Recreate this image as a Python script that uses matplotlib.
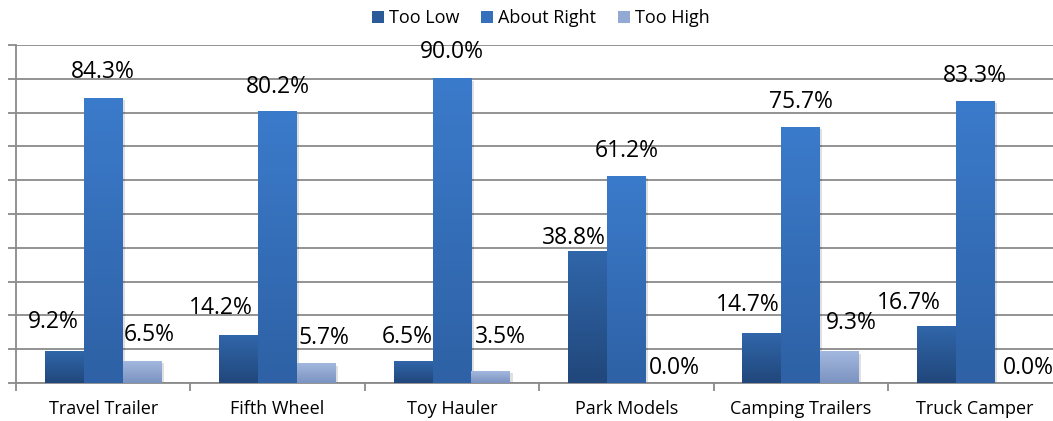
import matplotlib.pyplot as plt
import numpy as np
from matplotlib.colors import LinearSegmentedColormap
from matplotlib.patches import Patch, Rectangle

categories = ['Travel Trailer', 'Fifth Wheel', 'Toy Hauler', 'Park Models',
              'Camping Trailers', 'Truck Camper']
series = ['Too Low', 'About Right', 'Too High']
too_low = [9.2, 14.2, 6.5, 38.8, 14.7, 16.7]
about_right = [84.3, 80.2, 90.0, 61.2, 75.7, 83.3]
too_high = [6.5, 5.7, 3.5, 0.0, 9.3, 0.0]
values = [too_low, about_right, too_high]

# bar colours: (bottom, top) of the vertical gradient
grad_colors = [('#21477b', '#3066aa'),
               ('#2e61a5', '#3b7bcb'),
               ('#7b93c1', '#a3b8de')]
legend_colors = ['#2a5a98', '#3670bd', '#92a9d4']

# label nudges in pixels (x, y above bar top)
lab_dx = [[-11, -18, -6, -14, -14, -27],
          [0, 0, 0, 0, 0, 0],
          [7, 7, 9, 9, 12, 14]]
lab_dy = [[30, 27, 24, 14, 28, 24],
          [26, 25, 27, 25, 25, 25],
          [26, 26, 34, 15, 29, 15]]

plt.rcParams['font.family'] = ['Open Sans', 'DejaVu Sans']

fig = plt.figure(figsize=(10.53, 4.21), dpi=100)
ax = fig.add_axes([16 / 1053, 38 / 421, 1046.4 / 1053, 338 / 421])

width = 0.2236
x = np.arange(len(categories))
grad = np.linspace(0, 1, 256).reshape(-1, 1)

for i, vals in enumerate(values):
    cmap = LinearSegmentedColormap.from_list('g%d' % i, grad_colors[i])
    xs = x + (i - 1) * width
    for j, v in enumerate(vals):
        x0 = xs[j] - width / 2
        if v > 0:
            # soft shadow behind the bar
            ax.add_patch(Rectangle((x0 + 0.012, -0.6), width, v, color='#000000',
                                   alpha=0.12, lw=0, zorder=2))
            ax.imshow(grad, extent=(x0, x0 + width, 0, v), origin='lower',
                      cmap=cmap, aspect='auto', zorder=3 + i * 0.1,
                      interpolation='bicubic')
        ax.annotate('%.1f%%' % v, xy=(xs[j], v),
                    xytext=(lab_dx[i][j] * 0.72, lab_dy[i][j] * 0.72),
                    textcoords='offset points', ha='center', va='center',
                    fontsize=16.5, color='#000000', zorder=6)

ax.set_xlim(-0.5, len(categories) - 0.5)
ax.set_ylim(0, 100)
ax.set_yticks(np.arange(0, 101, 10))
ax.set_yticklabels([])
ax.yaxis.grid(True, color='#8a8a8a', lw=1.3)
ax.set_axisbelow(True)

ax.set_xticks(x)
ax.set_xticklabels(categories, fontsize=13)
ax.set_xticks(np.arange(-0.5, len(categories), 1), minor=True)
ax.tick_params(axis='x', which='major', length=0, pad=12)
ax.tick_params(axis='x', which='minor', length=6, width=1.3, color='#8a8a8a',
               direction='out')
ax.tick_params(axis='y', length=6, width=1.3, color='#8a8a8a', direction='out')

for s in ['top', 'right']:
    ax.spines[s].set_visible(False)
for s in ['left', 'bottom']:
    ax.spines[s].set_color('#8a8a8a')
    ax.spines[s].set_linewidth(1.3)

handles = [Patch(facecolor=c, edgecolor='none') for c in legend_colors]
fig.legend(handles, series, loc='center', bbox_to_anchor=(541 / 1053, 1 - 18 / 421),
           ncol=3, frameon=False, fontsize=13, handlelength=0.65, handleheight=0.65,
           handletextpad=0.3, columnspacing=1.2)

fig.savefig('out.png', dpi=100)
